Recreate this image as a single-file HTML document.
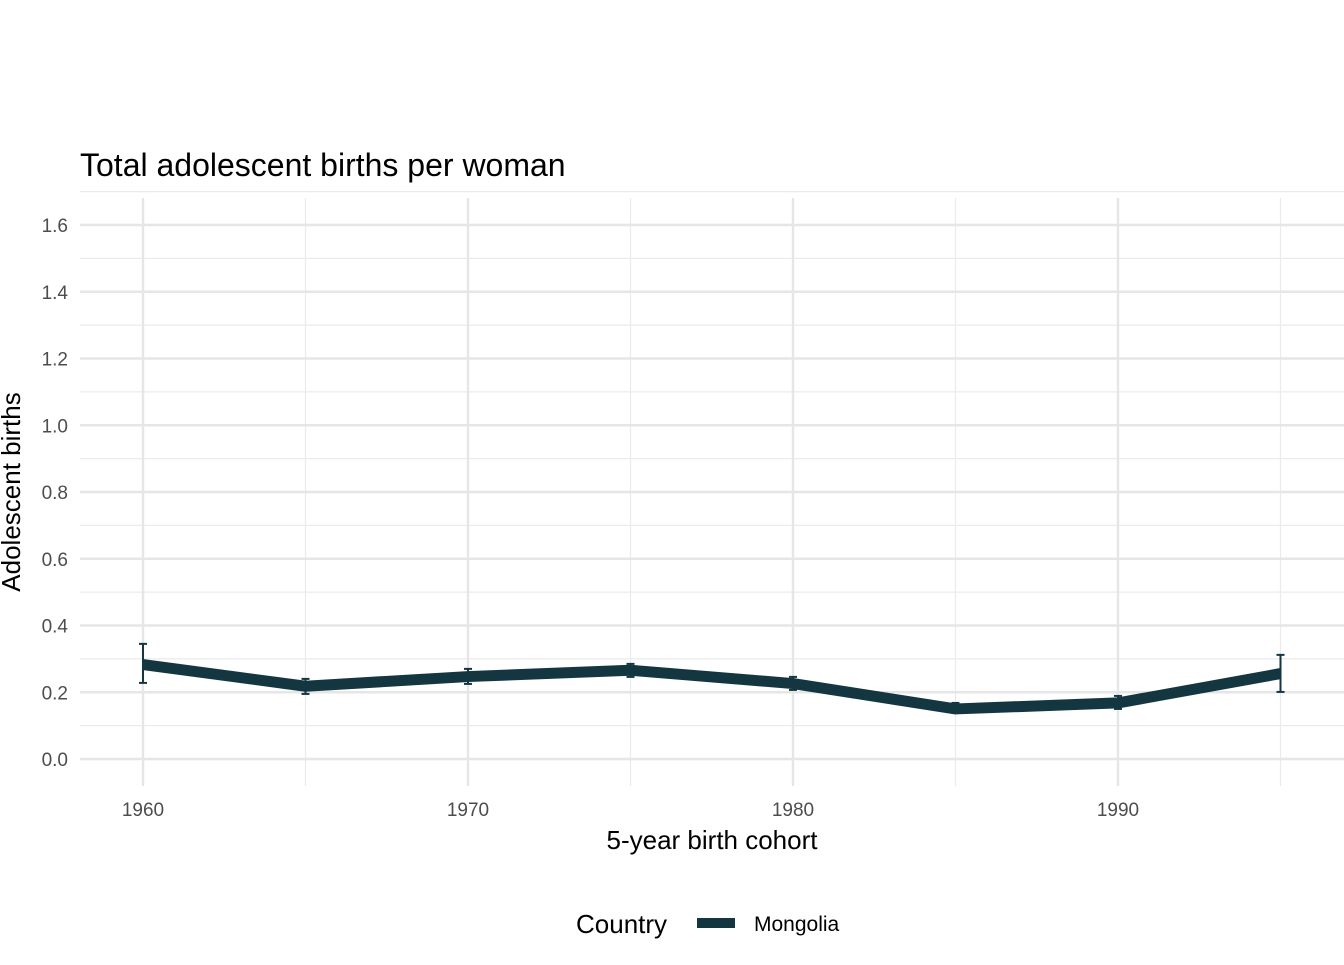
<!DOCTYPE html>
<html><head><meta charset="utf-8"><style>
body{margin:0;background:#fff;font-family:"Liberation Sans",Arial,sans-serif}
svg text{font-family:"Liberation Sans",Arial,sans-serif}
</style></head><body>
<svg id="chart" width="1344" height="960" xmlns="http://www.w3.org/2000/svg">
<text x="80" y="176" font-size="32" fill="#000">Total adolescent births per woman</text>
<g id="grid"></g>
<g id="marks"></g>
<g id="axes"></g>
<text x="712" y="849" font-size="26" text-anchor="middle">5-year birth cohort</text>
<text transform="translate(20,492) rotate(-90)" font-size="26" text-anchor="middle">Adolescent births</text>
<g>
<text x="576" y="933" font-size="26">Country</text>
<rect x="697" y="918" width="38" height="10" fill="#143641"/>
<text x="754" y="931" font-size="21">Mongolia</text>
</g>
</svg>
<script>
const years = [1960,1965,1970,1975,1980,1985,1990,1995];
const means = [0.283,0.218,0.247,0.266,0.226,0.150,0.168,0.256];
const lower = [0.228,0.195,0.225,0.246,0.207,0.138,0.150,0.201];
const upper = [0.345,0.240,0.270,0.285,0.246,0.168,0.189,0.312];
const yTicks = [0,0.2,0.4,0.6,0.8,1.0,1.2,1.4,1.6];
const xTicks = [1960,1970,1980,1990];
const NS="http://www.w3.org/2000/svg";
const X=v=>143+(v-1960)*32.5;
const Y=v=>759-v*333.75;
function mk(parent,tag,attrs){const e=document.createElementNS(NS,tag);for(const k in attrs)e.setAttribute(k,attrs[k]);parent.appendChild(e);return e;}
const grid=document.getElementById('grid'),marks=document.getElementById('marks'),axes=document.getElementById('axes');
const L=80,R=1344,T=198,B=786;
for(let v=0.1;v<1.7;v+=0.2){const l=mk(grid,'line',{x1:L,x2:R,y1:Y(v),y2:Y(v),stroke:'#ebebeb','stroke-width':1.2});

}
for(let v=1965;v<=1995;v+=10){const l=mk(grid,'line',{x1:X(v),x2:X(v),y1:T,y2:B,stroke:'#ebebeb','stroke-width':1.2});

}
yTicks.forEach(v=>{const l=mk(grid,'line',{x1:L,x2:R,y1:Y(v),y2:Y(v),stroke:'#e6e6e6','stroke-width':2.4});


const t=mk(axes,'text',{x:68,y:Y(v)+7,'font-size':19,'text-anchor':'end',fill:'#4d4d4d'});t.textContent=v.toFixed(1);

});
xTicks.forEach(v=>{const l=mk(grid,'line',{x1:X(v),x2:X(v),y1:T,y2:B,stroke:'#e6e6e6','stroke-width':2.4});


const t=mk(axes,'text',{x:X(v),y:816,'font-size':19,'text-anchor':'middle',fill:'#4d4d4d'});t.textContent=v;

});
const c='#143641';
years.forEach((yr,i)=>{const g=mk(marks,'g',{});


mk(g,'line',{x1:X(yr),x2:X(yr),y1:Y(upper[i]),y2:Y(lower[i]),stroke:c,'stroke-width':2});
mk(g,'line',{x1:X(yr)-4,x2:X(yr)+4,y1:Y(upper[i]),y2:Y(upper[i]),stroke:c,'stroke-width':2});
mk(g,'line',{x1:X(yr)-4,x2:X(yr)+4,y1:Y(lower[i]),y2:Y(lower[i]),stroke:c,'stroke-width':2});});
const p=mk(marks,'polyline',{points:years.map((yr,i)=>X(yr)+','+Y(means[i])).join(' '),fill:'none',stroke:c,'stroke-width':11,'stroke-linejoin':'round'});


</script>
</body></html>
